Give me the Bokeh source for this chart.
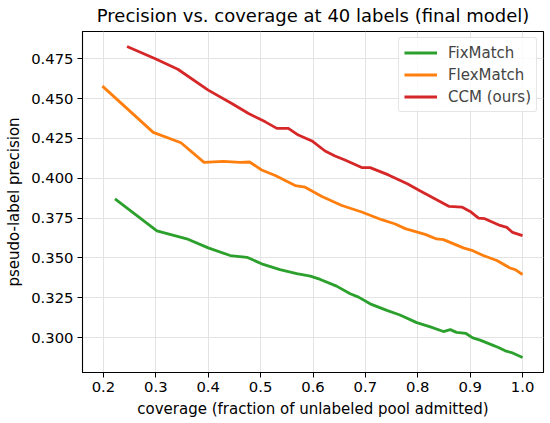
from bokeh.plotting import figure
from bokeh.models import Range1d, FixedTicker, CustomJSTickFormatter, Legend, LegendItem
from bokeh.embed import file_html
from bokeh.resources import INLINE

fix_x = [0.222, 0.302, 0.359, 0.400, 0.442, 0.474, 0.505, 0.537, 0.569, 0.595, 0.614, 0.645, 0.671, 0.687, 0.709,
         0.741, 0.766, 0.798, 0.824, 0.849, 0.862, 0.874, 0.892, 0.905, 0.919, 0.938, 0.954, 0.967, 0.979, 1.000]
fix_y = [0.3870, 0.3670, 0.3620, 0.3563, 0.3515, 0.3504, 0.3459, 0.3427, 0.3402, 0.3386, 0.3365, 0.3323, 0.3275, 0.3254, 0.3212,
         0.3171, 0.3142, 0.3094, 0.3067, 0.3038, 0.3050, 0.3033, 0.3026, 0.2998, 0.2984, 0.2959, 0.2938, 0.2917, 0.2906, 0.2875]

flex_x = [0.198, 0.295, 0.348, 0.392, 0.429, 0.461, 0.479, 0.502, 0.528, 0.566, 0.585, 0.617, 0.655, 0.693,
          0.731, 0.757, 0.776, 0.814, 0.836, 0.849, 0.887, 0.903, 0.925, 0.951, 0.976, 0.986, 1.000]
flex_y = [0.4578, 0.4288, 0.4223, 0.4100, 0.4106, 0.4100, 0.4102, 0.4052, 0.4017, 0.3954, 0.3944, 0.3886, 0.3829, 0.3788,
          0.3740, 0.3713, 0.3684, 0.3648, 0.3619, 0.3615, 0.3563, 0.3548, 0.3515, 0.3484, 0.3437, 0.3427, 0.3396]

ccm_x = [0.245, 0.299, 0.342, 0.400, 0.445, 0.477, 0.509, 0.531, 0.553, 0.572, 0.598, 0.623, 0.642, 0.661, 0.693,
         0.709, 0.744, 0.780, 0.804, 0.836, 0.860, 0.884, 0.900, 0.916, 0.928, 0.957, 0.970, 0.981, 1.000]
ccm_y = [0.4827, 0.4750, 0.4684, 0.4553, 0.4469, 0.4406, 0.4354, 0.4313, 0.4313, 0.4271, 0.4234, 0.4171, 0.4140, 0.4115, 0.4067,
         0.4067, 0.4021, 0.3965, 0.3921, 0.3865, 0.3823, 0.3819, 0.3792, 0.3750, 0.3746, 0.3704, 0.3692, 0.3660, 0.3640]

x_ticks = [0.2, 0.3, 0.4, 0.5, 0.6, 0.7, 0.8, 0.9, 1.0]
y_ticks = [0.300, 0.325, 0.350, 0.375, 0.400, 0.425, 0.450, 0.475]

FONT = "DejaVu Sans"

p = figure(width=550, height=423, output_backend="svg", toolbar_location=None,
           x_range=Range1d(0.16, 1.04), y_range=Range1d(0.2781, 0.4921),
           title="Precision vs. coverage at 40 labels (final model)",
           min_border_left=82, min_border_right=7, min_border_top=29, min_border_bottom=51)

p.title.text_font = FONT
p.title.text_font_size = "18px"
p.title.text_font_style = "normal"
p.title.text_color = "black"
p.title.align = "center"
p.title.vertical_align = "top"
p.title.standoff = 8
p.title.offset = 0

p.outline_line_color = "black"
p.outline_line_width = 1.1
p.background_fill_color = "white"
p.border_fill_color = "white"

for ax in (p.xaxis[0], p.yaxis[0]):
    ax.major_label_text_font = FONT
    ax.major_label_text_font_size = "14.8px"
    ax.major_label_text_color = "black"
    ax.axis_label_text_font = FONT
    ax.axis_label_text_font_size = "15px"
    ax.axis_label_text_font_style = "normal"
    ax.axis_label_text_color = "black"
    ax.axis_line_color = "black"
    ax.major_tick_line_color = "black"
    ax.major_tick_out = 5
    ax.major_tick_in = 0
    ax.minor_tick_line_color = None
    ax.major_label_standoff = 4

p.xaxis.ticker = FixedTicker(ticks=x_ticks)
p.yaxis.ticker = FixedTicker(ticks=y_ticks)
p.xaxis.formatter = CustomJSTickFormatter(code="return tick.toFixed(1);")
p.yaxis.formatter = CustomJSTickFormatter(code="return tick.toFixed(3);")
p.xaxis.axis_label = "coverage (fraction of unlabeled pool admitted)"
p.yaxis.axis_label = "pseudo-label precision"
p.xaxis.axis_label_standoff = 5
p.yaxis.axis_label_standoff = 5

p.grid.grid_line_color = "#e3e3e3"
p.grid.grid_line_width = 1

r1 = p.line(fix_x, fix_y, line_color="#2ca02c", line_width=2.8)
r2 = p.line(flex_x, flex_y, line_color="#ff7f0e", line_width=2.8)
r3 = p.line(ccm_x, ccm_y, line_color="#d62728", line_width=2.8)

legend = Legend(items=[LegendItem(label="FixMatch", renderers=[r1]),
                       LegendItem(label="FlexMatch", renderers=[r2]),
                       LegendItem(label="CCM (ours)", renderers=[r3])],
                location="top_right")
legend.margin = 6
legend.padding = 5
legend.spacing = 3
legend.glyph_width = 33
legend.glyph_height = 19
legend.label_height = 19
legend.label_standoff = 11
legend.label_text_font = FONT
legend.label_text_font_size = "15px"
legend.border_line_color = "#cccccc"
legend.border_line_width = 1
legend.border_radius = 3
legend.background_fill_alpha = 0.8
p.add_layout(legend)

open("out.html", "w").write(file_html(p, INLINE))
